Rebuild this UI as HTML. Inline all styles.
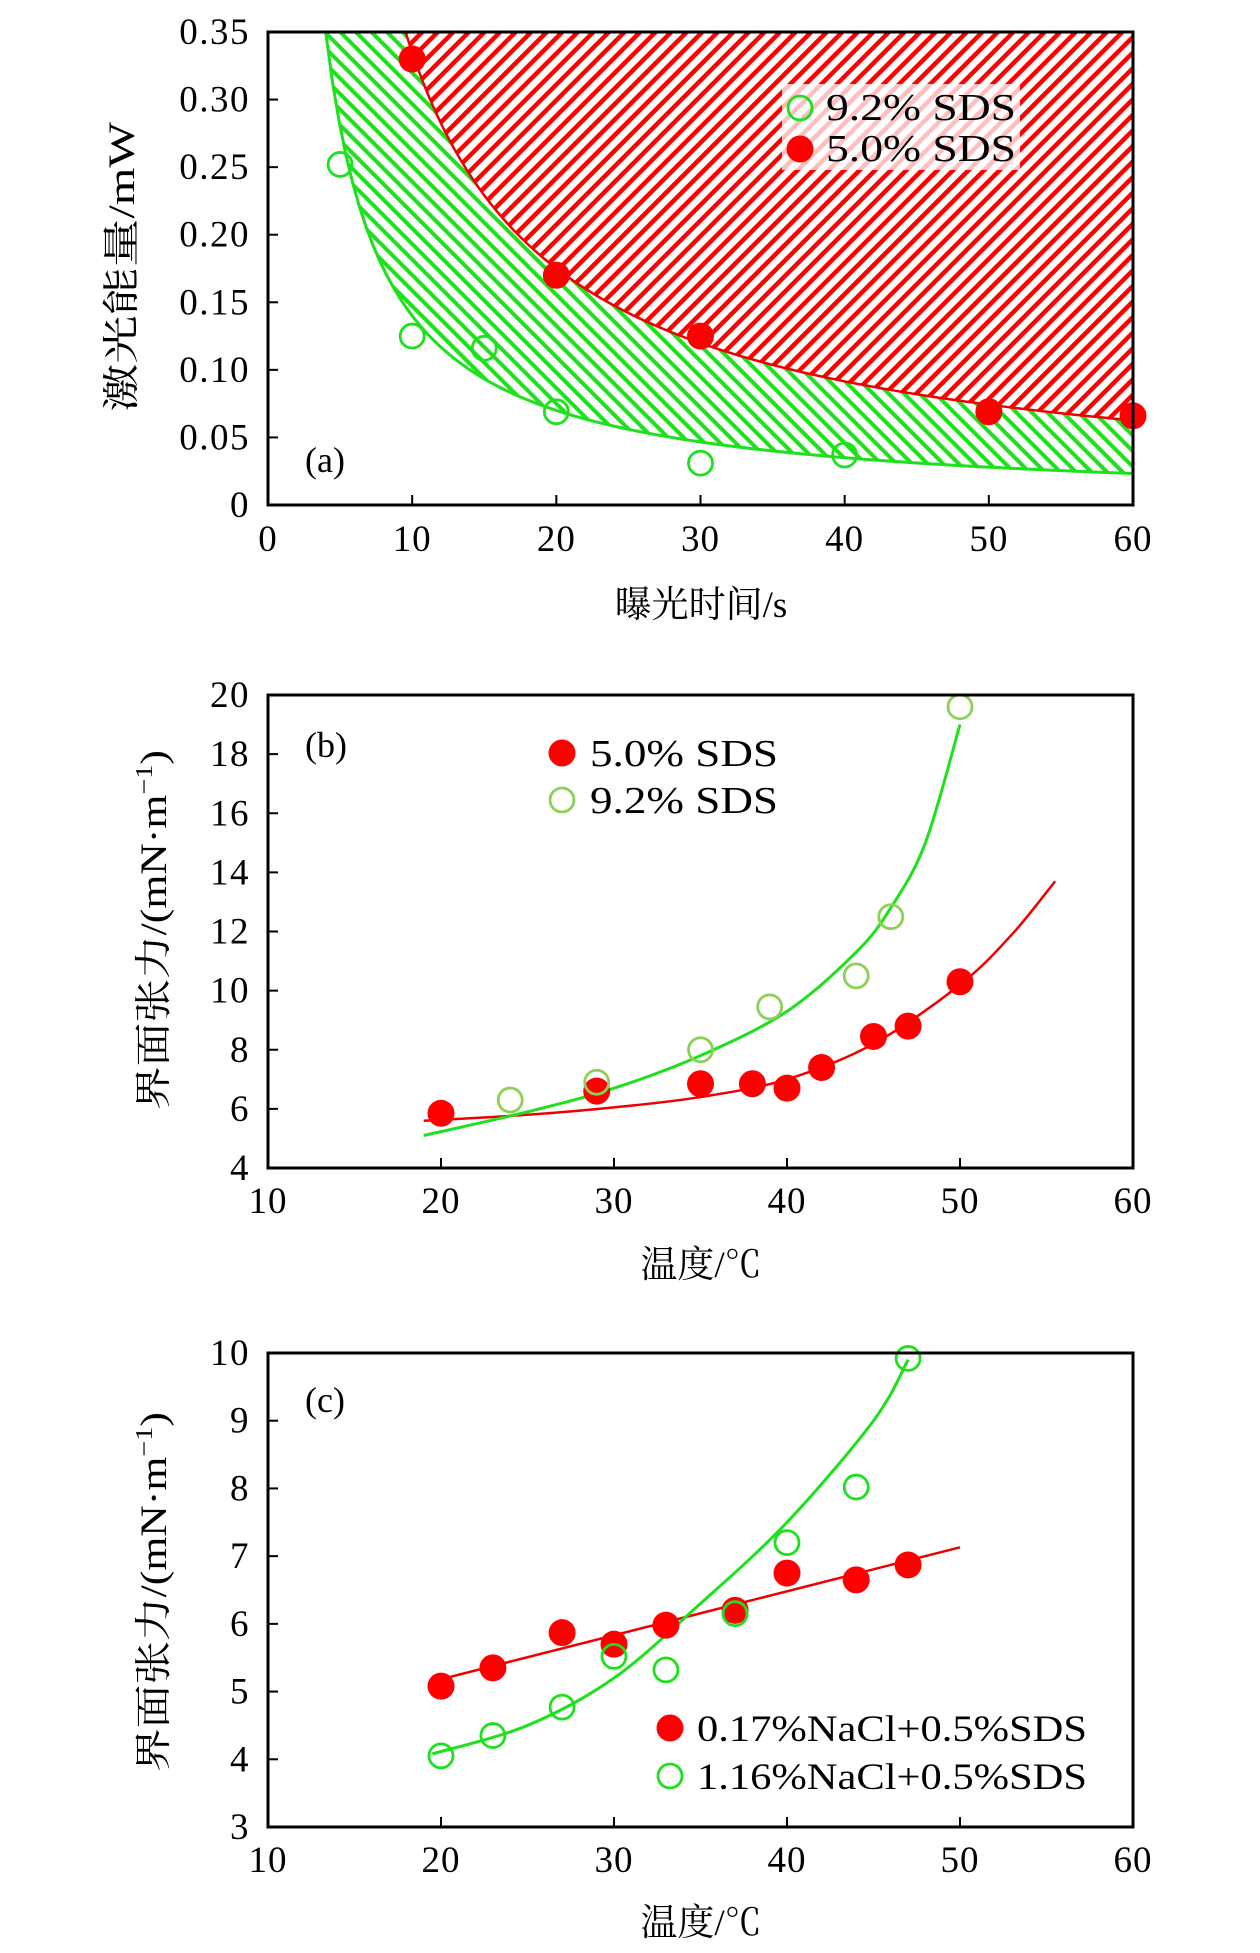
<!DOCTYPE html>
<html><head><meta charset="utf-8"><style>
html,body{margin:0;padding:0;background:#fff}
svg{display:block}
text{font-family:"Liberation Serif","Noto Serif CJK SC",serif;fill:#000}
</style></head><body>
<svg id="chart" xmlns="http://www.w3.org/2000/svg" width="1260" height="1953" viewBox="0 0 1260 1953">
<defs>
<pattern id="hatchRed" patternUnits="userSpaceOnUse" width="11" height="11" patternTransform="rotate(-45)">
<rect width="11" height="11" fill="#fff"/><rect width="11" height="4.5" fill="#f00"/></pattern>
<pattern id="hatchGreen" patternUnits="userSpaceOnUse" width="11" height="11" patternTransform="rotate(45)">
<rect width="11" height="4" fill="#1de11d"/></pattern>
</defs>
</svg>
<script>
// Panel (a)
const aGreenX=[5,10,15,20,30,40];
const aGreenY=[0.252,0.125,0.116,0.069,0.031,0.037];
const aRedX=[10,20,30,50,60];
const aRedY=[0.33,0.17,0.125,0.069,0.066];
const aXTicks=[0,10,20,30,40,50,60];
const aYTicks=[0,0.05,0.10,0.15,0.20,0.25,0.30,0.35];
const aYTickLabels=["0","0.05","0.10","0.15","0.20","0.25","0.30","0.35"];
const aGreenFitA=1.4, aGreenFitB=1.0;
const aRedFitA=2.89, aRedFitB=0.936;
// Panel (b)
const bRedX=[20,29,35,38,40,42,45,47,50];
const bRedY=[5.85,6.6,6.85,6.85,6.7,7.4,8.45,8.8,10.3];
const bGreenX=[24,29,35,39,44,46,50];
const bGreenY=[6.3,6.9,8.0,9.45,10.5,12.5,19.6];
const bRedFitX=[19,25,30,35,40,45,50,53,55.5];
const bRedFitY=[5.6,5.8,6.05,6.4,7.0,8.2,10.2,11.9,13.7];
const bGreenFitX=[19,25,30,35,40,44,46,48,50];
const bGreenFitY=[5.1,5.9,6.7,7.8,9.3,11.3,12.8,15,19];
const bXTicks=[10,20,30,40,50,60];
const bYTicks=[4,6,8,10,12,14,16,18,20];
// Panel (c)
const cRedX=[20,23,27,30,33,37,40,44,47];
const cRedY=[5.08,5.35,5.87,5.7,5.98,6.2,6.75,6.65,6.87];
const cGreenX=[20,23,27,30,33,37,40,44,47];
const cGreenY=[4.05,4.35,4.77,5.52,5.32,6.15,7.2,8.02,9.92];
const cRedFitX=[19.5,50];
const cRedFitY=[5.15,7.13];
const cGreenFitX=[19.5,25,30,35,40,45,47];
const cGreenFitY=[4.08,4.5,5.2,6.3,7.5,9.0,9.9];
const cXTicks=[10,20,30,40,50,60];
const cYTicks=[3,4,5,6,7,8,9,10];

const NS="http://www.w3.org/2000/svg";
const svg=document.getElementById('chart');
function mk(tag,attrs,parent){const e=document.createElementNS(NS,tag);for(const k in attrs)e.setAttribute(k,attrs[k]);(parent||svg).appendChild(e);return e;}
function panel(L,R,T,B,x0,x1,y0,y1){return {L,R,T,B,sx:v=>L+(v-x0)/(x1-x0)*(R-L),sy:v=>B-(v-y0)/(y1-y0)*(B-T)};}
function smooth(P,xs,ys){let d='';const pts=xs.map((x,i)=>[P.sx(x),P.sy(ys[i])]);
 d='M'+pts[0][0]+','+pts[0][1];
 for(let i=0;i<pts.length-1;i++){const p0=pts[Math.max(0,i-1)],p1=pts[i],p2=pts[i+1],p3=pts[Math.min(pts.length-1,i+2)];
  d+=' C'+(p1[0]+(p2[0]-p0[0])/6)+','+(p1[1]+(p2[1]-p0[1])/6)+' '+(p2[0]-(p3[0]-p1[0])/6)+','+(p2[1]-(p3[1]-p1[1])/6)+' '+p2[0]+','+p2[1];}
 return d;}
function axes(P,name,xt,yt,ylab,xlab,xLabY){
 const g=mk('g',{});
 xt.forEach(v=>{const x=P.sx(v);mk('line',{x1:x,x2:x,y1:P.B,y2:P.B-10,stroke:'#000','stroke-width':2},g);
  const t=mk('text',{x:x,y:xLabY,'text-anchor':'middle','font-size':37,'letter-spacing':1},g);t.textContent=v;
  });
 yt.forEach((v,i)=>{const y=P.sy(v);mk('line',{x1:P.L,x2:P.L+10,y1:y,y2:y,stroke:'#000','stroke-width':2},g);
  const t=mk('text',{x:250,y:y+12,'text-anchor':'end','font-size':37,'letter-spacing':1.5},g);t.textContent=ylab?ylab[i]:v;
  });
 const r=mk('rect',{x:P.L,y:P.T,width:P.R-P.L,height:P.B-P.T,fill:'none',stroke:'#000','stroke-width':3},g);
 }
function dots(P,xs,ys,filled,color,name){const g=mk('g',{});
 xs.forEach((x,i)=>{const c=mk('circle',{cx:P.sx(x),cy:P.sy(ys[i]),r:filled?13.5:12,fill:filled?color:'none',stroke:color,'stroke-width':filled?0:2.8},g);
  });}
function txt(x,y,s,size,name,anchor,rot,len){const t=mk('text',{x:x,y:y,'font-size':size,'text-anchor':anchor||'start'});
 if(rot)t.setAttribute('transform','rotate(-90 '+x+' '+y+')');
 if(len){t.setAttribute('textLength',len);t.setAttribute('lengthAdjust','spacingAndGlyphs');}
 t.innerHTML=s;
 return t;}

// ===== Panel a =====
const A=panel(268,1133,32,505,0,60,0,0.35);
const gf=x=>aGreenFitA/Math.pow(x,aGreenFitB), rf=x=>aRedFitA/Math.pow(x,aRedFitB);
let gx0=aGreenFitA/0.35, rx0=Math.pow(aRedFitA/0.35,1/aRedFitB);
let gp=[],rp=[];
for(let i=0;i<=120;i++){const x=gx0+(60-gx0)*i/120;gp.push([A.sx(x),A.sy(gf(x))]);}
for(let i=0;i<=120;i++){const x=rx0+(60-rx0)*i/120;rp.push([A.sx(x),A.sy(rf(x))]);}
const gArea=mk('path',{d:'M'+gp.map(p=>p.join(',')).join(' L')+' L'+A.R+','+A.T+' L'+A.sx(gx0)+','+A.T+'Z',fill:'url(#hatchGreen)'});

const rArea=mk('path',{d:'M'+rp.map(p=>p.join(',')).join(' L')+' L'+A.R+','+A.T+' L'+A.sx(rx0)+','+A.T+'Z',fill:'url(#hatchRed)'});

const gl=mk('path',{d:'M'+gp.map(p=>p.join(',')).join(' L'),fill:'none',stroke:'#1de11d','stroke-width':3});

const rl=mk('path',{d:'M'+rp.map(p=>p.join(',')).join(' L'),fill:'none',stroke:'#e00','stroke-width':2.5});

dots(A,aGreenX,aGreenY,false,'#1de11d','green-9-2-sds');
dots(A,aRedX,aRedY,true,'#f00','red-5-0-sds');
const lb=mk('rect',{x:782,y:84,width:238,height:86,fill:'#fff','fill-opacity':0.75});

const la1=mk('circle',{cx:800,cy:108,r:12,fill:'none',stroke:'#1de11d','stroke-width':2.8});
const la2=mk('circle',{cx:800,cy:149,r:13.5,fill:'#f00'});
txt(826,120,'9.2% SDS',38,'legend-entry-9-2-sds',null,false,190);
txt(826,161,'5.0% SDS',38,'legend-entry-5-0-sds',null,false,190);
txt(305,472,'(a)',36,'panel-label-a');
axes(A,'panel-a',aXTicks,aYTicks,aYTickLabels,null,551);
txt(701,617,'曝光时间/s',37,'x-axis-title-a','middle');
txt(134,267,'激光能量/mW',37,'y-axis-title-a','middle',true,290);

// ===== Panel b =====
const Bp=panel(268,1133,695,1168,10,60,4,20);
const brl=mk('path',{d:smooth(Bp,bRedFitX,bRedFitY),fill:'none',stroke:'#e00','stroke-width':2.5});
const bgl=mk('path',{d:smooth(Bp,bGreenFitX,bGreenFitY),fill:'none',stroke:'#1de11d','stroke-width':3});
dots(Bp,bRedX,bRedY,true,'#f00','red-5-0-sds-b');
dots(Bp,bGreenX,bGreenY,false,'#8cd055','green-9-2-sds-b');
const lb1=mk('circle',{cx:562,cy:753,r:13.5,fill:'#f00'});
const lb2=mk('circle',{cx:562,cy:800,r:12,fill:'none',stroke:'#8cd055','stroke-width':2.8});
txt(590,766,'5.0% SDS',38,'legend-entry-5-0-sds-b',null,false,188);
txt(590,813,'9.2% SDS',38,'legend-entry-9-2-sds-b',null,false,188);
txt(305,757,'(b)',36,'panel-label-b');
axes(Bp,'panel-b',bXTicks,bYTicks,null,null,1213);
txt(701,1277,'温度/℃',37,'x-axis-title-b','middle');
txt(166,930,'界面张力/(mN·m<tspan font-size="24" dy="-14">−1</tspan><tspan dy="14">)</tspan>',37,'y-axis-title-b','middle',true,360);

// ===== Panel c =====
const Cp=panel(268,1133,1353,1827,10,60,3,10);
const crl=mk('path',{d:smooth(Cp,cRedFitX,cRedFitY),fill:'none',stroke:'#e00','stroke-width':2.5});
const cgl=mk('path',{d:smooth(Cp,cGreenFitX,cGreenFitY),fill:'none',stroke:'#1de11d','stroke-width':3});
dots(Cp,cRedX,cRedY,true,'#f00','red-0-17-nacl');
dots(Cp,cGreenX,cGreenY,false,'#1de11d','green-1-16-nacl');
const lc1=mk('circle',{cx:670,cy:1728,r:13.5,fill:'#f00'});
const lc2=mk('circle',{cx:670,cy:1776,r:12,fill:'none',stroke:'#1de11d','stroke-width':2.8});
txt(697,1741,'0.17%NaCl+0.5%SDS',37,'legend-entry-0-17-nacl',null,false,390);
txt(697,1789,'1.16%NaCl+0.5%SDS',37,'legend-entry-1-16-nacl',null,false,390);
txt(305,1412,'(c)',36,'panel-label-c');
axes(Cp,'panel-c',cXTicks,cYTicks,null,null,1872);
txt(701,1935,'温度/℃',37,'x-axis-title-c','middle');
txt(166,1592,'界面张力/(mN·m<tspan font-size="24" dy="-14">−1</tspan><tspan dy="14">)</tspan>',37,'y-axis-title-c','middle',true,360);
</script>
</body></html>
